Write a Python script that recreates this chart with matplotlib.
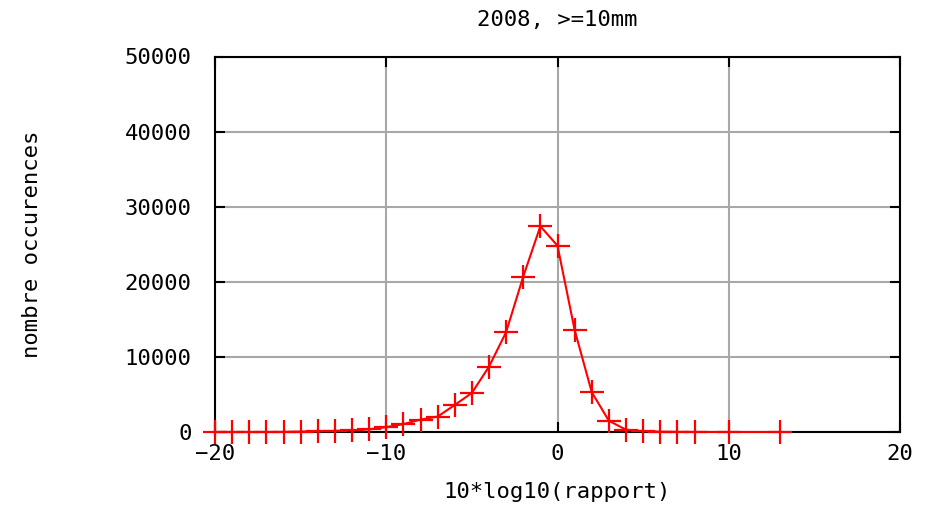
import matplotlib
matplotlib.use("Agg")
import matplotlib.pyplot as plt

# histogram of 10*log10(rapport), 2008, >=10mm
x = [-20, -19, -18, -17, -16, -15, -14, -13, -12, -11, -10, -9, -8, -7, -6,
     -5, -4, -3, -2, -1, 0, 1, 2, 3, 4, 5, 6, 7, 8, 10, 13]
counts = [0, 0, 0, 0, 10, 60, 100, 150, 220, 350, 650, 1050, 1650, 2050, 3600,
          5200, 8700, 13300, 20700, 27400, 24800, 13600, 5300, 1500, 300, 120,
          40, 15, 5, 1, 1]

xticks = [-20, -10, 0, 10, 20]
yticks = [0, 10000, 20000, 30000, 40000, 50000]

plt.rcParams['font.family'] = ['DejaVu Sans Mono']

fig = plt.figure(figsize=(9.46, 5.09), dpi=100)
ax = fig.add_axes([215 / 946, 77 / 509, 685 / 946, 375.5 / 509])

ax.plot(x, counts, color='red', linewidth=1.5, marker='+', markersize=17,
        markeredgewidth=1.6, clip_on=False, zorder=3)

ax.set_xlim(-20, 20)
ax.set_ylim(0, 50000)
ax.set_xticks(xticks)
ax.set_yticks(yticks)
ax.grid(True, color='#a8a8a8', linewidth=1.5)
ax.set_axisbelow(True)
ax.tick_params(direction='in', length=7, width=1.5, top=True, right=True,
               labelsize=16, colors='black')
ax.tick_params(axis='x', pad=9)
ax.tick_params(axis='y', pad=17)
for s in ax.spines.values():
    s.set_linewidth(1.5)
    s.set_color('black')

ax.set_title('2008, >=10mm', fontsize=16, pad=22)
ax.set_xlabel('10*log10(rapport)', fontsize=16)
ax.set_ylabel('nombre occurences', fontsize=16)
ax.xaxis.set_label_coords(0.5, -0.133)
ax.yaxis.set_label_coords(-0.252, 0.5)

fig.savefig('out.png', dpi=100)
